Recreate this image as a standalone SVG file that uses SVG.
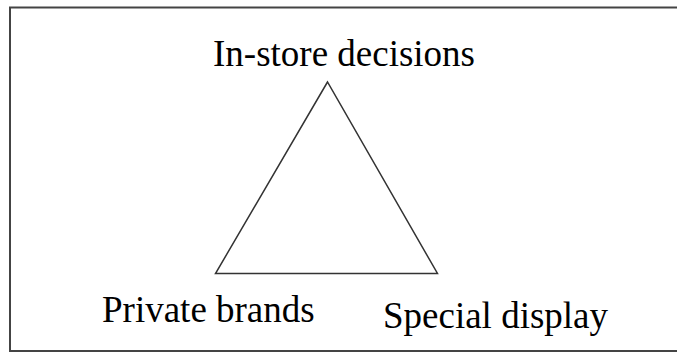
<svg xmlns="http://www.w3.org/2000/svg" width="677" height="353" viewBox="0 0 677 353">
<style>
.lbl{font-family:"Liberation Serif","Times New Roman",serif;font-size:37px;fill:#000}
.edge{fill:none;stroke:#333;stroke-width:1.5}
</style>
<rect x="0" y="0" width="677" height="353" fill="#fff"/>
<rect id="frame" x="10" y="7.5" width="700" height="343.5" fill="none" stroke="#444" stroke-width="2"/>
<g id="connectors">
<polygon class="edge" points="327.5,82 215.5,273.5 437.5,273.5"/>
</g>
<g id="node-instore"><text class="lbl" x="213" y="65.5">In-store decisions</text></g>
<g id="node-private"><text class="lbl" x="102" y="321.5">Private brands</text></g>
<g id="node-special"><text class="lbl" x="383" y="328">Special display</text></g>
</svg>
